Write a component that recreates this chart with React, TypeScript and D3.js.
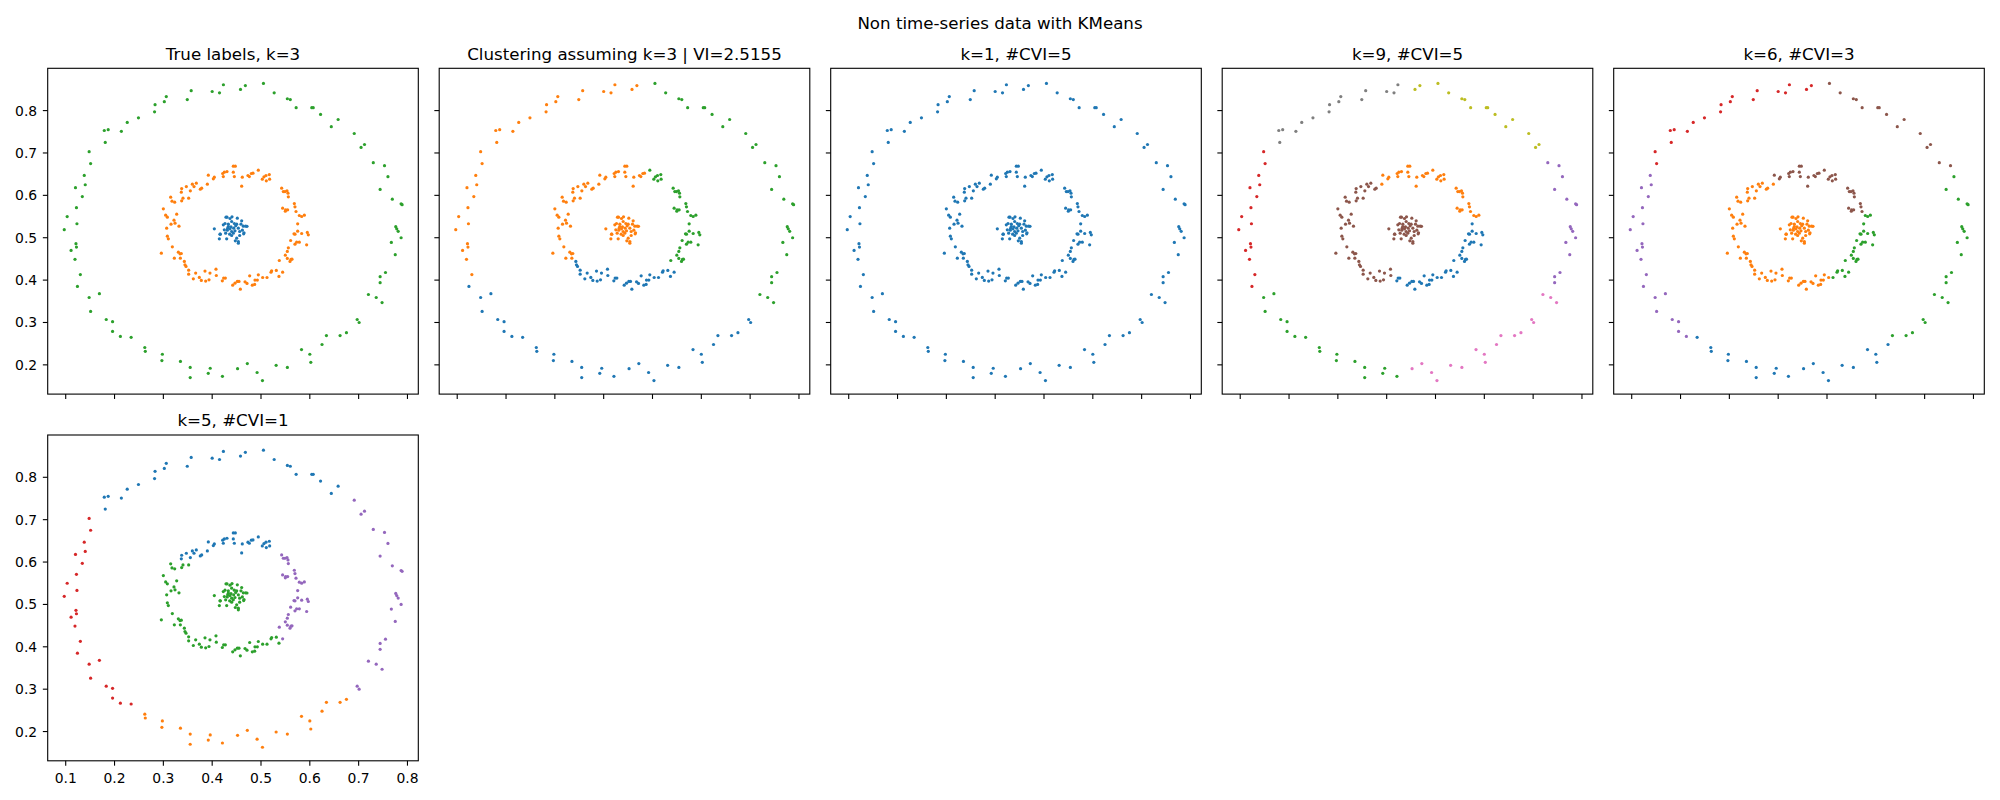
import React from "react";
import * as d3 from "d3";

// ---- data (x, y) ----
const outerRing: [number, number][] = [
  [0.179, 0.753], [0.187, 0.755], [0.181, 0.725], [0.214, 0.751], [0.226, 0.772],
  [0.249, 0.783], [0.282, 0.797], [0.283, 0.814], [0.302, 0.821], [0.306, 0.833],
  [0.349, 0.826], [0.357, 0.847], [0.400, 0.845], [0.415, 0.842], [0.423, 0.861],
  [0.458, 0.850], [0.468, 0.859], [0.505, 0.864], [0.527, 0.842], [0.554, 0.828],
  [0.560, 0.826], [0.572, 0.807], [0.604, 0.807], [0.607, 0.807], [0.622, 0.791],
  [0.644, 0.762], [0.658, 0.779],
  [0.691, 0.746], [0.705, 0.713], [0.712, 0.720], [0.730, 0.677], [0.753, 0.670],
  [0.744, 0.614], [0.760, 0.644], [0.769, 0.591], [0.776, 0.526], [0.778, 0.521],
  [0.781, 0.515], [0.787, 0.580], [0.789, 0.578], [0.787, 0.500], [0.767, 0.489],
  [0.775, 0.460], [0.755, 0.418], [0.744, 0.408], [0.744, 0.394], [0.720, 0.366],
  [0.736, 0.359], [0.748, 0.347], [0.697, 0.307], [0.701, 0.300],
  [0.262, 0.241], [0.263, 0.232], [0.298, 0.225], [0.297, 0.210], [0.335, 0.208],
  [0.355, 0.194], [0.355, 0.170], [0.392, 0.180], [0.396, 0.192], [0.421, 0.173],
  [0.452, 0.191], [0.472, 0.203], [0.492, 0.182], [0.503, 0.163], [0.531, 0.199],
  [0.554, 0.194], [0.583, 0.236], [0.600, 0.225], [0.602, 0.206], [0.625, 0.248],
  [0.634, 0.269], [0.662, 0.269], [0.675, 0.276],
  [0.234, 0.265], [0.212, 0.267], [0.196, 0.302], [0.183, 0.307], [0.196, 0.279],
  [0.151, 0.326], [0.148, 0.359], [0.169, 0.368], [0.124, 0.385], [0.130, 0.413],
  [0.119, 0.449], [0.122, 0.478], [0.121, 0.486], [0.123, 0.533], [0.103, 0.550],
  [0.097, 0.519], [0.111, 0.470], [0.122, 0.571], [0.134, 0.597], [0.120, 0.618],
  [0.140, 0.625], [0.138, 0.647], [0.151, 0.675], [0.148, 0.703],
];

const middleRing: [number, number][] = [
  [0.4433, 0.6688], [0.4474, 0.6688], [0.4249, 0.6546], [0.4303, 0.6562], [0.4215, 0.6515],
  [0.4433, 0.6546], [0.3921, 0.6476], [0.4044, 0.6428], [0.4024, 0.6389], [0.4228, 0.6444],
  [0.4454, 0.6444], [0.4617, 0.6428], [0.4733, 0.6468], [0.4802, 0.6515], [0.4836, 0.6523],
  [0.4761, 0.6444], [0.4945, 0.6593], [0.5061, 0.6436], [0.5102, 0.6468], [0.5170, 0.6491],
  [0.5177, 0.6381], [0.5109, 0.6342], [0.5027, 0.6381], [0.4604, 0.6216],
  [0.3594, 0.6263], [0.3628, 0.6208], [0.3675, 0.6287], [0.3785, 0.6169], [0.3757, 0.6145],
  [0.3901, 0.6263], [0.3375, 0.6161], [0.3471, 0.6208], [0.3368, 0.6075], [0.3553, 0.6106],
  [0.3518, 0.5933], [0.3402, 0.5933], [0.3375, 0.5870], [0.3150, 0.5957], [0.3177, 0.5862],
  [0.3232, 0.5839],
  [0.3000, 0.5681], [0.3047, 0.5532], [0.3082, 0.5485], [0.3273, 0.5556], [0.3218, 0.5414],
  [0.3239, 0.5344], [0.3320, 0.5273], [0.3157, 0.5320], [0.3068, 0.5226], [0.3082, 0.5037],
  [0.3102, 0.4974], [0.3184, 0.4785], [0.2959, 0.4636], [0.3307, 0.4660], [0.3341, 0.4620],
  [0.3368, 0.4628], [0.3225, 0.4518], [0.3348, 0.4518],
  [0.3430, 0.4440], [0.3443, 0.4361], [0.3464, 0.4322], [0.3518, 0.4235], [0.3518, 0.4141],
  [0.3614, 0.4031], [0.3662, 0.4165], [0.3737, 0.4063], [0.3778, 0.3992], [0.3853, 0.4212],
  [0.3867, 0.3976], [0.3935, 0.4007], [0.3955, 0.4165], [0.4078, 0.4259], [0.4085, 0.4109],
  [0.4235, 0.4047], [0.4270, 0.4047], [0.4208, 0.3984], [0.4467, 0.3928], [0.4515, 0.3968],
  [0.4549, 0.3968], [0.4420, 0.3881], [0.4577, 0.3787], [0.4673, 0.3960], [0.4713, 0.3921],
  [0.4768, 0.4102], [0.4822, 0.3881], [0.4870, 0.3897], [0.4877, 0.4000], [0.4925, 0.4000],
  [0.4945, 0.4125], [0.5034, 0.4062], [0.5123, 0.4062], [0.5205, 0.4188], [0.5218, 0.4220],
  [0.5314, 0.4228], [0.5368, 0.4086], [0.5443, 0.4188],
  [0.5375, 0.4463], [0.5498, 0.4589], [0.5539, 0.4676], [0.5539, 0.4511], [0.5614, 0.4487],
  [0.5594, 0.4440], [0.5635, 0.4495], [0.5560, 0.4762], [0.5696, 0.4848], [0.5730, 0.4896],
  [0.5785, 0.4896], [0.5935, 0.4833],
  [0.5607, 0.4935], [0.5696, 0.5084], [0.5676, 0.5092], [0.5751, 0.5155], [0.5751, 0.5328],
  [0.5833, 0.5100], [0.5949, 0.5124], [0.5969, 0.5069],
  [0.5443, 0.5697], [0.5505, 0.5658], [0.5546, 0.5658], [0.5498, 0.5627], [0.5717, 0.5619],
  [0.5683, 0.5807], [0.5696, 0.5729], [0.5785, 0.5524], [0.5833, 0.5501], [0.5888, 0.5532],
  [0.5423, 0.6169], [0.5457, 0.6090], [0.5491, 0.6090], [0.5532, 0.6106], [0.5553, 0.6051],
  [0.5560, 0.5964],
];

const innerCluster: [number, number][] = [
  [0.4304, 0.5485], [0.4365, 0.5454], [0.4515, 0.5462], [0.4399, 0.5383], [0.4604, 0.5399],
  [0.4228, 0.5304], [0.4454, 0.5336], [0.4502, 0.5320], [0.4331, 0.5320], [0.4263, 0.5336],
  [0.4638, 0.5273], [0.4686, 0.5273], [0.4481, 0.5281], [0.4385, 0.5257], [0.4331, 0.5265],
  [0.4044, 0.5210], [0.4317, 0.5226], [0.4365, 0.5210], [0.4440, 0.5226], [0.4536, 0.5226],
  [0.4249, 0.5186], [0.4618, 0.5178], [0.4310, 0.5178], [0.4399, 0.5147], [0.4563, 0.5147],
  [0.4467, 0.5163], [0.4276, 0.5108], [0.4652, 0.5116], [0.4433, 0.5108], [0.4167, 0.5084],
  [0.4358, 0.5084], [0.4563, 0.5053], [0.4399, 0.5053], [0.4147, 0.4974], [0.4297, 0.4974],
  [0.4502, 0.4990], [0.4536, 0.4911], [0.4590, 0.5320], [0.4283, 0.5485], [0.4406, 0.5493],
  [0.4713, 0.5270], [0.4645, 0.5092], [0.4536, 0.4872], [0.4474, 0.4927], [0.4160, 0.5084],
];

// ---- panels: titles and cluster assignment per ring ----
// Ring sectors: [start angle in degrees around the ring centre, cluster colour];
// a sector runs until the next start angle, the last one wraps round to the first.
const ringCentre: [number, number] = [0.445, 0.518];

const suptitle = "Non time-series data with KMeans";

const panelTitles = [
  "True labels, k=3",
  "Clustering assuming k=3 | VI=2.5155",
  "k=1, #CVI=5",
  "k=9, #CVI=5",
  "k=6, #CVI=3",
  "k=5, #CVI=1",
];

type Sector = [number, string];

const innerColours = ["blue", "orange", "blue", "brown", "orange", "green"];

const middleSectors: Sector[][] = [
  [[0, "orange"]],
  [[72.3, "orange"], [213.5, "blue"], [318.6, "green"]],
  [[0, "blue"]],
  [[10, "orange"], [120.4, "brown"], [255, "blue"]],
  [[16.7, "brown"], [114.5, "orange"], [299.3, "green"]],
  [[52, "blue"], [140.7, "green"], [313.6, "purple"]],
];

const outerSectors: Sector[][] = [
  [[0, "green"]],
  [[83, "orange"], [200.5, "blue"], [325, "green"]],
  [[0, "blue"]],
  [[33, "olive"], [90.7, "gray"], [145, "red"], [205.5, "green"], [268.6, "pink"], [334.2, "purple"]],
  [[24.2, "brown"], [83, "red"], [154.6, "purple"], [228.8, "blue"], [305.5, "green"]],
  [[46.8, "blue"], [145, "red"], [233.3, "orange"], [316.5, "purple"]],
];

const xTicks = [0.1, 0.2, 0.3, 0.4, 0.5, 0.6, 0.7, 0.8];
const yTicks = [0.2, 0.3, 0.4, 0.5, 0.6, 0.7, 0.8];

// ---- styles / layout ----
const PALETTE: Record<string, string> = {
  blue: "#1f77b4",
  orange: "#ff7f0e",
  green: "#2ca02c",
  red: "#d62728",
  purple: "#9467bd",
  brown: "#8c564b",
  pink: "#e377c2",
  gray: "#7f7f7f",
  olive: "#bcbd22",
};

const W = 2000;
const H = 800;
const AX_LEFT0 = 47.7;
const AX_STEP_X = 391.5;
const AX_W = 370.6;
const AX_TOP0 = 68.3;
const AX_STEP_Y = 366.7;
const AX_H = 325.8;
const X_DOMAIN: [number, number] = [0.0631, 0.8222];
const Y_DOMAIN: [number, number] = [0.131, 0.8998];
const TICK = 4.86;
const FONT = "'DejaVu Sans', sans-serif";
const LW = 1.1;
const R = 1.6;

function sectorColour(p: [number, number], sectors: Sector[]): string {
  let a = (Math.atan2(p[1] - ringCentre[1], p[0] - ringCentre[0]) * 180) / Math.PI;
  if (a < 0) a += 360;
  let c = sectors[sectors.length - 1][1];
  for (const [start, col] of sectors) if (a >= start) c = col;
  return c;
}

function Panel({ index, col, row, showX, showY }: { index: number; col: number; row: number; showX: boolean; showY: boolean }) {
  const left = AX_LEFT0 + col * AX_STEP_X;
  const top = AX_TOP0 + row * AX_STEP_Y;
  const x = d3.scaleLinear().domain(X_DOMAIN).range([left, left + AX_W]);
  const y = d3.scaleLinear().domain(Y_DOMAIN).range([top + AX_H, top]);

  const pts: { p: [number, number]; c: string }[] = [];
  outerRing.forEach((p) => pts.push({ p, c: sectorColour(p, outerSectors[index]) }));
  middleRing.forEach((p) => pts.push({ p, c: sectorColour(p, middleSectors[index]) }));
  innerCluster.forEach((p) => pts.push({ p, c: innerColours[index] }));

  return (
    <g>
      <text x={left + AX_W / 2} y={top - 8.8} textAnchor="middle" fontFamily={FONT} fontSize={16.67} fill="#000">
        {panelTitles[index]}
      </text>
      {pts.map((d, i) => (
        <circle key={i} cx={x(d.p[0])} cy={y(d.p[1])} r={R} fill={PALETTE[d.c]} />
      ))}
      {xTicks.map((t) => (
        <g key={"x" + t}>
          <line x1={x(t)} x2={x(t)} y1={top + AX_H} y2={top + AX_H + TICK} stroke="#000" strokeWidth={LW} />
          {showX && (
            <text x={x(t)} y={top + AX_H + 21.7} textAnchor="middle" fontFamily={FONT} fontSize={13.9} fill="#000">
              {d3.format(".1f")(t)}
            </text>
          )}
        </g>
      ))}
      {yTicks.map((t) => (
        <g key={"y" + t}>
          <line x1={left - TICK} x2={left} y1={y(t)} y2={y(t)} stroke="#000" strokeWidth={LW} />
          {showY && (
            <text x={left - 10.5} y={y(t) + 5} textAnchor="end" fontFamily={FONT} fontSize={13.9} fill="#000">
              {d3.format(".1f")(t)}
            </text>
          )}
        </g>
      ))}
      <rect x={left} y={top} width={AX_W} height={AX_H} fill="none" stroke="#000" strokeWidth={LW} />
    </g>
  );
}

export default function App() {
  const layout = [
    { col: 0, row: 0, showX: false, showY: true },
    { col: 1, row: 0, showX: false, showY: false },
    { col: 2, row: 0, showX: false, showY: false },
    { col: 3, row: 0, showX: false, showY: false },
    { col: 4, row: 0, showX: false, showY: false },
    { col: 0, row: 1, showX: true, showY: true },
  ];
  return (
    <svg
      width={W}
      height={H}
      viewBox={`0 0 ${W} ${H}`}
      style={{ position: "absolute", left: 0, top: 0, background: "#fff" }}
    >
      <rect width={W} height={H} fill="#fff" />
      <text x={W / 2} y={29} textAnchor="middle" fontFamily={FONT} fontSize={16.67} fill="#000">
        {suptitle}
      </text>
      {layout.map((l, i) => (
        <Panel key={i} index={i} {...l} />
      ))}
    </svg>
  );
}
